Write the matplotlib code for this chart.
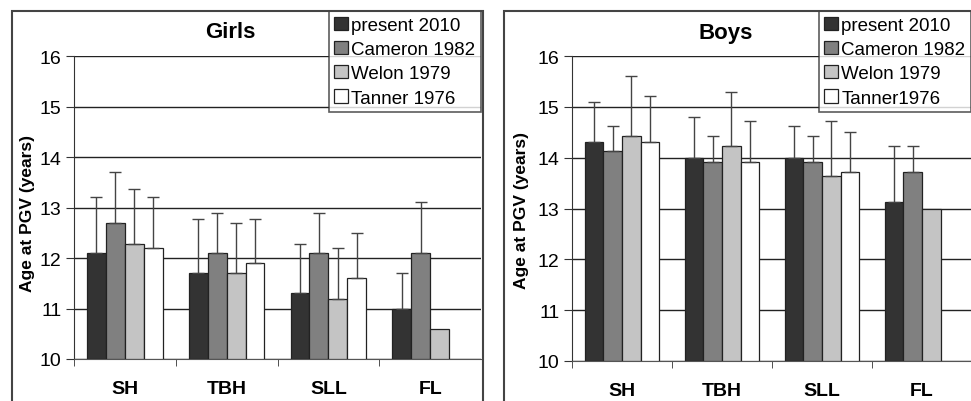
import numpy as np
import matplotlib
matplotlib.use('Agg')
import matplotlib.pyplot as plt
from matplotlib.patches import Rectangle

plt.rcParams['font.family'] = ['Liberation Sans', 'DejaVu Sans']

categories = ['SH', 'TBH', 'SLL', 'FL']
series = ['present 2010', 'Cameron 1982', 'Welon 1979', 'Tanner 1976']
series_boys = ['present 2010', 'Cameron 1982', 'Welon 1979', 'Tanner1976']

# girls: mean and top of the error bar
girls_mean = [
    [12.1, 11.7, 11.3, 11.0],
    [12.7, 12.1, 12.1, 12.1],
    [12.28, 11.7, 11.18, 10.6],
    [12.2, 11.9, 11.6, np.nan],
]
girls_top = [
    [13.2, 12.78, 12.28, 11.7],
    [13.7, 12.9, 12.9, 13.1],
    [13.37, 12.7, 12.2, np.nan],
    [13.2, 12.78, 12.5, np.nan],
]

boys_mean = [
    [14.3, 14.0, 14.0, 13.13],
    [14.13, 13.92, 13.92, 13.72],
    [14.42, 14.22, 13.63, 13.0],
    [14.3, 13.92, 13.72, np.nan],
]
boys_top = [
    [15.1, 14.8, 14.63, 14.22],
    [14.63, 14.42, 14.42, 14.22],
    [15.6, 15.3, 14.72, np.nan],
    [15.22, 14.72, 14.5, np.nan],
]

colors = ['#333333', '#808080', '#c4c4c4', '#ffffff']

W, H = 971, 402
fig = plt.figure(figsize=(W / 100, H / 100), dpi=100)


def draw_panel(rect, title, mean, top, labels, legend_right, ylab_xy):
    ax = fig.add_axes(rect)
    ind = np.arange(len(categories))
    width = 0.186
    for i in range(len(mean)):
        m = np.array(mean[i], dtype=float)
        t = np.array(top[i], dtype=float)
        pos = ind + (i - 1.5) * width
        ax.bar(pos, m - 10, width, bottom=10, color=colors[i], edgecolor='#222222',
               linewidth=0.9, label=labels[i], zorder=3)
        err = t - m
        ok = ~np.isnan(err)
        ax.errorbar(pos[ok], m[ok], yerr=[np.zeros(ok.sum()), err[ok]], fmt='none',
                    ecolor='#444444', elinewidth=1, capsize=4, capthick=1, zorder=4)
    ax.set_xlim(-0.5, 3.5)
    ax.set_ylim(10, 16)
    ax.set_yticks(np.arange(10, 17, 1))
    ax.yaxis.grid(True, color='#222222', linewidth=1)
    ax.set_axisbelow(True)
    for s in ['top', 'right']:
        ax.spines[s].set_visible(False)
    ax.spines['left'].set_color('#333333')
    ax.spines['bottom'].set_color('#555555')
    ax.set_xticks(ind)
    ax.set_xticklabels(categories, fontsize=14, fontweight='bold')
    ax.set_xticks([-0.5, 0.5, 1.5, 2.5], minor=True)
    ax.tick_params(axis='x', which='major', length=0, pad=15)
    ax.tick_params(axis='x', which='minor', length=5, color='#333333')
    ax.tick_params(axis='y', labelsize=14, length=6, color='#333333', pad=3)
    ax.set_ylabel('Age at PGV (years)', fontsize=12.5, fontweight='bold')
    ax.yaxis.set_label_coords(*ylab_xy)
    fig.text(rect[0] + rect[2] * 0.385, 1 - 33 / H, title, fontsize=16, fontweight='bold',
             ha='center', va='center')
    leg = ax.legend(loc='upper right', bbox_to_anchor=(legend_right, 1 - 12 / H),
                    bbox_transform=fig.transFigure, fontsize=13.5, frameon=True, fancybox=False,
                    edgecolor='#333333', handlelength=0.7, handleheight=0.7,
                    handletextpad=0.2, labelspacing=0.38, borderpad=0.3, borderaxespad=0)
    leg.get_frame().set_linewidth(1.2)
    return ax


draw_panel([74 / W, 1 - 360 / H, 407 / W, 303 / H], 'Girls', girls_mean, girls_top,
           series, 481 / W, (-0.096, 0.482))
draw_panel([572 / W, 1 - 362 / H, 400 / W, 305 / H], 'Boys', boys_mean, boys_top,
           series_boys, 971 / W, (-0.107, 0.498))

# outer frames round each panel
fig.patches.append(Rectangle((12 / W, -0.05), 471 / W, 1 - 12 / H + 0.05,
                             transform=fig.transFigure, fill=False,
                             edgecolor='#444444', linewidth=1.5))
fig.patches.append(Rectangle((504 / W, -0.05), 480 / W, 1 - 12 / H + 0.05,
                             transform=fig.transFigure, fill=False,
                             edgecolor='#444444', linewidth=1.5))

fig.savefig('out.png', dpi=100)
